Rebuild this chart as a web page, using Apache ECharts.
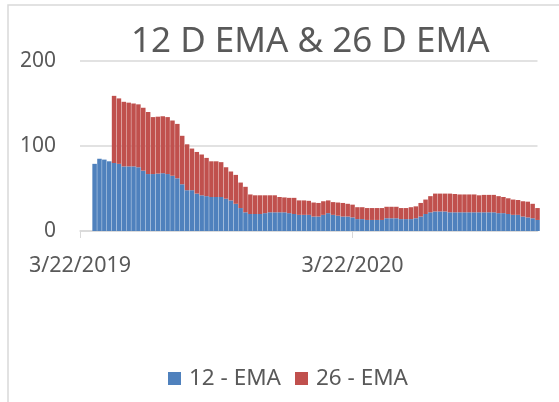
<!DOCTYPE html>
<html>
<head>
    <meta charset="utf-8">
    <script src="https://cdn.jsdelivr.net/npm/echarts@6.0.0/dist/echarts.min.js"></script>
    <style>html, body { margin: 0; padding: 0; background: #fff; }</style>
</head>
<body>
    <div id="echartsMain" style="width: 559px; height: 402px;"></div>
</body>
</html>

<script type="text/javascript">
    // 95 evenly spaced slots from 3/22/2019 to late Nov 2020 (about 6.5 days apart)
    const slotCount = 95
    const firstSlot = 3 // first EMA reading
    const tickSlots = [0, 56]
    const tickLabels = ['3/22/2019', '3/22/2020']

    const ema12 = [
        79, 85, 84, 82, 80, 79, 76, 76, 76, 75,
        71, 67, 67, 67.5, 68, 67, 65, 62, 55, 48,
        48, 44, 42, 41, 40, 40, 40, 38, 36, 32,
        27, 22, 20, 20, 20, 21, 22, 22, 22, 22,
        21, 20, 19, 19, 19, 17, 17, 19, 21, 19,
        18, 17, 17, 16, 14, 14, 13, 13, 13, 13,
        15, 15, 15, 14, 14, 14, 15, 17, 20, 22,
        23, 23, 23, 22, 22, 22, 22, 22, 22, 22,
        22, 22, 22, 21, 21, 20, 19, 19, 17, 16,
        15, 13
    ]
    const ema26 = [
        null, null, null, null, 79, 77, 76, 75, 74, 74,
        74, 73, 67, 67, 67, 67, 65, 64, 57, 54,
        49, 49, 48, 45, 42, 42, 41, 37, 34, 34,
        30, 30, 23, 22, 22, 21, 20, 20, 18, 17.5,
        18, 19, 17, 17, 16.5, 16.5, 16, 16, 15, 15,
        15.5, 16, 15, 15, 14, 14, 14, 14, 14, 14,
        13.5, 13.5, 13.5, 13, 13, 14, 14, 16, 17, 19,
        21, 21, 21, 22, 21.5, 21, 21, 21, 21, 20,
        20.5, 20.5, 20.5, 20, 19, 18.5, 18, 17.5, 18, 18.5,
        17, 14
    ]

    function draw() {
        let myChart = echarts.init(document.getElementById('echartsMain'));

        let xData = []
        for (let i = 0; i < slotCount; i++) xData.push(String(i))
        const pad = new Array(firstSlot).fill(null)
        let data12 = pad.concat(ema12)
        let data26 = pad.concat(ema26)

        const grey = '#595959'
        const font = 'Noto Sans'
        const isTick = i => tickSlots.indexOf(i) >= 0

        var option = {
            animation: false,
            graphic: [{
                type: 'rect',
                shape: { x: 8, y: 5, width: 700, height: 600 },
                style: { fill: 'none', stroke: '#d9d9d9', lineWidth: 1.5 }
            }],
            title: {
                text: '12 D EMA & 26 D EMA',
                left: 126,
                top: 20,
                textStyle: { fontFamily: font, fontSize: 35, fontWeight: 'normal', color: grey }
            },
            legend: {
                data: ['12 - EMA', '26 - EMA'],
                left: 163,
                top: 362,
                icon: 'rect',
                itemWidth: 13,
                itemHeight: 13,
                itemGap: 14,
                textStyle: { fontFamily: font, fontSize: 22.5, color: grey, padding: [0, 0, 0, 3] }
            },
            grid: { left: 80, right: 21.5, top: 61, bottom: 171, containLabel: false },
            xAxis: {
                type: 'category',
                data: xData,
                boundaryGap: false,
                axisLine: { lineStyle: { color: '#d9d9d9', width: 1.5 } },
                axisTick: { show: true, interval: isTick, length: 7, lineStyle: { color: '#d9d9d9' } },
                axisLabel: {
                    interval: isTick,
                    margin: 24,
                    fontFamily: font,
                    fontSize: 21.5,
                    color: grey,
                    formatter: v => tickLabels[tickSlots.indexOf(Number(v))] || ''
                },
                splitLine: { show: false }
            },
            yAxis: {
                type: 'value',
                min: 0,
                max: 200,
                interval: 100,
                axisLine: { show: false },
                axisTick: { show: false },
                axisLabel: { margin: 24, fontFamily: font, fontSize: 21, color: grey },
                splitLine: { lineStyle: { color: '#d9d9d9', width: 1.5 } }
            },
            series: [
                {
                    name: '12 - EMA',
                    type: 'bar',
                    stack: 'ema',
                    barWidth: 4.5,
                    itemStyle: { color: '#4f81bd' },
                    data: data12
                },
                {
                    name: '26 - EMA',
                    type: 'bar',
                    stack: 'ema',
                    barWidth: 4.5,
                    itemStyle: { color: '#c0504d' },
                    data: data26
                }
            ]
        };
        myChart.setOption(option);
    }

    draw()
</script>
